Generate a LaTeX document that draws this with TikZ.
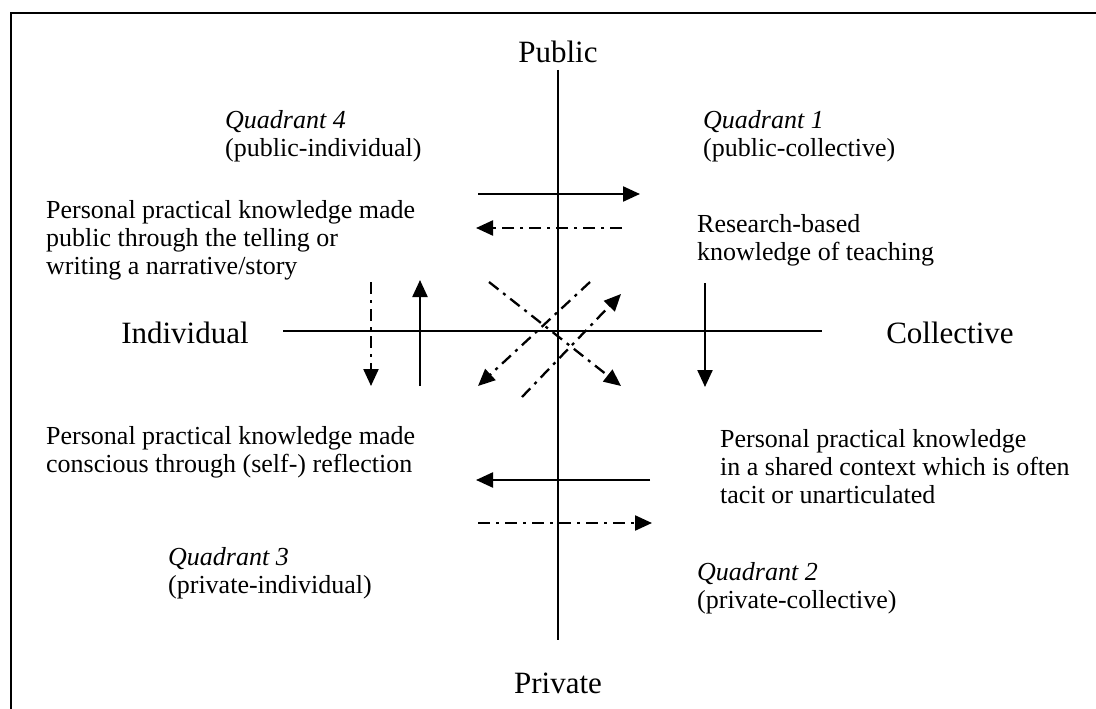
\documentclass[tikz,border=0pt]{standalone}
\usepackage{fontspec}
\setmainfont{Liberation Serif}
\usetikzlibrary{arrows.meta}

\begin{document}
\begin{tikzpicture}[
		x=1pt, y=-1pt,
		every node/.style={inner sep=0pt, align=left, font=\fontsize{26}{28}\selectfont},
		axislabel/.style={font=\fontsize{31}{36}\selectfont},
		quad/.style={anchor=west},
		axis/.style={line width=1.8pt},
		solidarrow/.style={-{Triangle[length=17pt,width=15pt]}, line width=2.3pt},
		dasharrow/.style={solidarrow, dash pattern=on 12pt off 6pt on 3pt off 6pt}
	]
	\useasboundingbox (0,0) rectangle (1096,709);

		% Frame
		\draw[line width=2pt] (11,709) -- (11,13) -- (1096,13);

		% Axis labels
		\node[axislabel] (public) at (558,52) {Public};
		\node[axislabel] (private) at (558,683) {Private};
		\node[axislabel] (individual) at (185,333) {Individual};
		\node[axislabel] (collective) at (950,333) {Collective};

		% Axes
		\coordinate (vtop) at (558,70);
		\coordinate (vbot) at (558,640);
		\coordinate (hleft) at (283,331);
		\coordinate (hright) at (822,331);
		\draw[axis] (vtop) -- (vbot);
		\draw[axis] (hleft) -- (hright);

		% Quadrant names
		\node[quad] (q4) at (225,136) {\textit{Quadrant 4}\\(public-individual)};
		\node[quad] (q1) at (703,136) {\textit{Quadrant 1}\\(public-collective)};
		\node[quad] (q3) at (168,573) {\textit{Quadrant 3}\\(private-individual)};
		\node[quad] (q2) at (697,588) {\textit{Quadrant 2}\\(private-collective)};

		% Quadrant texts
		\node[quad] (told) at (46,240) {Personal practical knowledge made\\public through the telling or\\writing a narrative/story};
		\node[quad] (research) at (697,240) {Research-based\\knowledge of teaching};
		\node[quad] (reflect) at (46,452) {Personal practical knowledge made\\conscious through (self-) reflection};
		\node[quad] (tacit) at (720,467) {Personal practical knowledge\\in a shared context which is often\\tacit or unarticulated};

		% Arrow ends
		\coordinate (a1s) at (478,194);  \coordinate (a1e) at (640,194);
		\coordinate (a2s) at (622,228);  \coordinate (a2e) at (476,228);
		\coordinate (a3s) at (371,282);  \coordinate (a3e) at (371,386);
		\coordinate (a4s) at (420,386);  \coordinate (a4e) at (420,280);
		\coordinate (a5s) at (705,283);  \coordinate (a5e) at (705,387);
		\coordinate (a6s) at (489,282);  \coordinate (a6e) at (621,386);
		\coordinate (a7s) at (590,282);  \coordinate (a7e) at (478,386);
		\coordinate (a8s) at (522,397);  \coordinate (a8e) at (621,294);
		\coordinate (a9s) at (650,480);  \coordinate (a9e) at (476,480);
		\coordinate (a10s) at (478,523); \coordinate (a10e) at (652,523);

		% Arrows
		\draw[solidarrow] (a1s) -- (a1e);
		\draw[dasharrow] (a2s) -- (a2e);
		\draw[dasharrow] (a3s) -- (a3e);
		\draw[solidarrow] (a4s) -- (a4e);
		\draw[solidarrow] (a5s) -- (a5e);
		\draw[dasharrow] (a6s) -- (a6e);
		\draw[dasharrow] (a7s) -- (a7e);
		\draw[dasharrow] (a8s) -- (a8e);
		\draw[solidarrow] (a9s) -- (a9e);
		\draw[dasharrow] (a10s) -- (a10e);

	\end{tikzpicture}
\end{document}
